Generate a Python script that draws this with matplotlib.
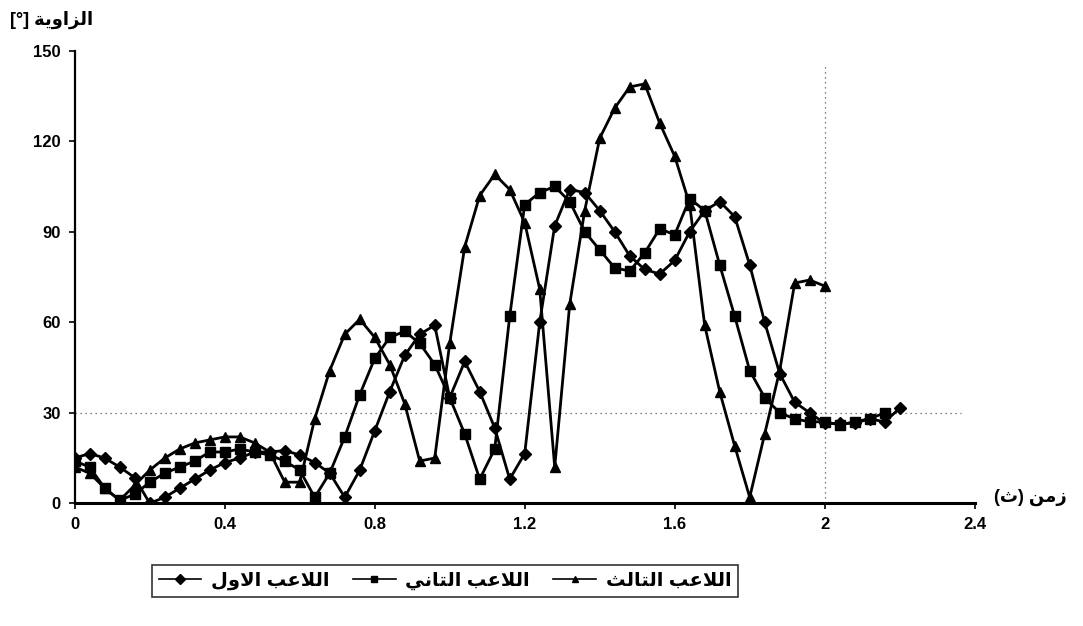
import matplotlib
matplotlib.use("Agg")
import matplotlib.pyplot as plt

# time axis (s), one sample every 0.04 s
t = [0.00, 0.04, 0.08, 0.12, 0.16, 0.20, 0.24, 0.28, 0.32, 0.36,
     0.40, 0.44, 0.48, 0.52, 0.56, 0.60, 0.64, 0.68, 0.72, 0.76,
     0.80, 0.84, 0.88, 0.92, 0.96, 1.00, 1.04, 1.08, 1.12, 1.16,
     1.20, 1.24, 1.28, 1.32, 1.36, 1.40, 1.44, 1.48, 1.52, 1.56,
     1.60, 1.64, 1.68, 1.72, 1.76, 1.80, 1.84, 1.88, 1.92, 1.96,
     2.00, 2.04, 2.08, 2.12, 2.16, 2.20]

# angle values
player1 = [15, 16.5, 15, 12, 8.5, 0, 2, 5, 8, 11,
           13.5, 15, 17, 17, 17.5, 16, 13.5, 10, 2, 11,
           24, 37, 49, 56, 59, 35, 47, 37, 25, 8,
           16.5, 60, 92, 104, 103, 97, 90, 82, 77.5, 76,
           80.5, 90, 97, 100, 95, 79, 60, 43, 33.5, 30,
           26.5, 26.5, 26.5, 28, 27, 31.5]
player2 = [14, 12, 5, 1, 3, 7, 10, 12, 14, 17,
           17, 18, 17, 16, 14, 11, 2, 10, 22, 36,
           48, 55, 57, 53, 46, 35, 23, 8, 18, 62,
           99, 103, 105, 100, 90, 84, 78, 77, 83, 91,
           89, 101, 97, 79, 62, 44, 35, 30, 28, 27,
           27, 26, 27, 28, 30]
player3 = [12, 10, 5, 1, 6, 11, 15, 18, 20, 21,
           22, 22, 20, 17, 7, 7, 28, 44, 56, 61,
           55, 46, 33, 14, 15, 53, 85, 102, 109, 104,
           93, 71, 12, 66, 97, 121, 131, 138, 139, 126,
           115, 99, 59, 37, 19, 2, 23, 44, 73, 74,
           72]

x_ticks = [0, 0.4, 0.8, 1.2, 1.6, 2, 2.4]
x_labels = ["0", "0.4", "0.8", "1.2", "1.6", "2", "2.4"]
y_ticks = [0, 30, 60, 90, 120, 150]

# Arabic text written as presentation forms in visual order (no shaping engine)
w_player = "\ufe90\ufecb\ufefc\ufedf\ufe8d"          # اللاعب
w_first = "\ufedd\ufeed\ufefb\ufe8d"                 # الاول
w_second = "\ufef2\ufee7\ufe8e\ufe98\ufedf\ufe8d"    # الثاني
w_third = "\ufe9a\ufedf\ufe8e\ufe98\ufedf\ufe8d"     # الثالث
w_angle = "\ufe94\ufef3\ufeed\ufe8d\ufeb0\ufedf\ufe8d"  # الزاوية
w_time = "\ufee6\ufee3\ufeaf"                        # زمن
w_sec = "\ufe99"                                     # ث

names = [w_first + " " + w_player,
         w_second + " " + w_player,
         w_third + " " + w_player]

plt.rcParams['font.family'] = ['Liberation Sans', 'DejaVu Sans']
plt.rcParams['font.weight'] = 'bold'

fig = plt.figure(figsize=(10.83, 6.26), dpi=100)
ax = fig.add_axes([0.069, 0.196, 0.831, 0.723])

# dotted reference lines
ax.axhline(30, xmin=0, xmax=0.985, color='#555555', lw=0.9, ls=(0, (1, 3)), zorder=1)
ax.axvline(2, ymin=0, ymax=0.97, color='#555555', lw=0.9, ls=(0, (1, 3)), zorder=1)

ax.plot(t, player1, color='black', lw=2, marker='D', ms=6, label=names[0], zorder=3)
ax.plot(t[:len(player2)], player2, color='black', lw=2, marker='s', ms=6.5, label=names[1], zorder=3)
ax.plot(t[:len(player3)], player3, color='black', lw=2, marker='^', ms=6.5, label=names[2], zorder=3)

ax.set_xlim(0, 2.4)
ax.set_ylim(0, 150)
ax.set_xticks(x_ticks)
ax.set_xticklabels(x_labels)
ax.set_yticks(y_ticks)
ax.tick_params(axis='both', labelsize=12, width=1.2, length=4, direction='out', pad=6)
for lab in ax.get_xticklabels() + ax.get_yticklabels():
    lab.set_fontweight('bold')

for side in ['top', 'right']:
    ax.spines[side].set_visible(False)
ax.spines['left'].set_linewidth(1.6)
ax.spines['bottom'].set_linewidth(2.2)

fig.text(0.009, 0.968, "[\u00b0] " + w_angle, fontsize=13, fontweight='bold',
         ha='left', va='center')
fig.text(0.918, 0.205, "(" + w_sec + ") " + w_time, fontsize=13, fontweight='bold',
         ha='left', va='center')

leg = fig.legend(loc='center', bbox_to_anchor=(0.411, 0.072), ncol=3,
                 frameon=True, fancybox=False, handlelength=2.2,
                 columnspacing=1.2, handletextpad=0.5, borderpad=0.35,
                 prop={'size': 14, 'weight': 'bold'})
leg.get_frame().set_edgecolor('black')
leg.get_frame().set_linewidth(1.2)
for h in leg.legend_handles:
    h.set_markersize(5)
    h.set_linewidth(1.2)

fig.savefig("out.png", dpi=100)
